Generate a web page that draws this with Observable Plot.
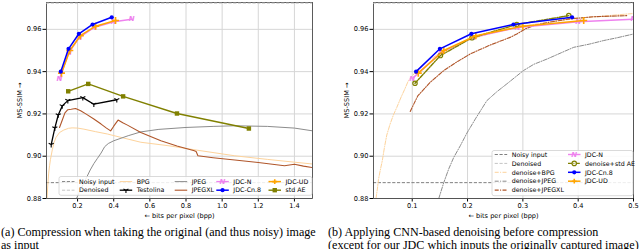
<!DOCTYPE html>
<html><head><meta charset="utf-8">
<script src="https://cdn.jsdelivr.net/npm/d3@7"></script>
<script src="https://cdn.jsdelivr.net/npm/@observablehq/plot@0.6"></script>
<style>
body{margin:0;width:640px;height:249px;overflow:hidden;background:#fff;position:relative;font-family:"DejaVu Sans"}
.panel{position:absolute;top:0}
#overlay{position:absolute;left:0;top:0;pointer-events:none}
.cap{position:absolute;top:226px;font-family:"Liberation Serif",serif;font-size:12.1px;line-height:13.3px;white-space:nowrap;color:#000}
</style></head>
<body>
<div id="a" class="panel" style="left:0"></div>
<div id="b" class="panel" style="left:320px"></div>
<svg id="overlay" width="640" height="222"></svg>
<div class="cap" style="left:1px">(a) Compression when taking the original (and thus noisy) image<br>as input</div>
<div class="cap" style="left:328px">(b) Applying CNN-based denoising before compression<br>(except for our JDC which inputs the originally captured image)</div>
<script>
// ---------- data ----------
const yTicks = [0.88, 0.90, 0.92, 0.94, 0.96];
const xTicksA = [0.2, 0.4, 0.6, 0.8, 1.0, 1.2, 1.4];
const xTicksB = [0.1, 0.2, 0.3, 0.4, 0.5];
const noisyInput = 0.8875;
const denoised = 0.9724;

const bpgX = [0.031,0.035,0.04,0.045,0.05,0.06,0.07,0.08,0.1,0.124,0.15,0.17,0.2,0.235,0.3,0.365,0.45,0.55,0.7,0.85,1.07,1.25,1.5];
const bpgY = [0.880,0.886,0.892,0.8955,0.8985,0.903,0.9065,0.9088,0.9112,0.9124,0.9132,0.9134,0.9133,0.9128,0.9116,0.9105,0.9087,0.9066,0.905,0.903,0.9002,0.8985,0.8963];
const testolinaX = [0.054,0.074,0.093,0.115,0.146,0.229,0.29,0.417];
const testolinaY = [0.9055,0.9133,0.9195,0.9238,0.9263,0.9277,0.9246,0.9267];
const jpegX = [0.194,0.21,0.23,0.25,0.27,0.29,0.31,0.33,0.35,0.37,0.40,0.44,0.48,0.55,0.65,0.8,0.95,1.07,1.25,1.4,1.5];
const jpegY = [0.880,0.883,0.8865,0.890,0.8935,0.8965,0.899,0.9015,0.9045,0.906,0.9073,0.9085,0.9097,0.9115,0.9127,0.9136,0.9141,0.9144,0.9141,0.9133,0.912];
const jpegxlX = [0.100,0.115,0.13,0.146,0.165,0.189,0.217,0.25,0.29,0.33,0.36,0.383,0.40,0.424,0.45,0.476,0.55,0.661,0.75,0.846,0.856,0.866,0.95,1.07,1.2,1.345,1.4,1.45,1.5];
const jpegxlY = [0.9136,0.917,0.9205,0.922,0.9222,0.9226,0.9215,0.9198,0.9176,0.9152,0.9133,0.912,0.9142,0.9171,0.9158,0.9147,0.9112,0.9073,0.9048,0.9026,0.9022,0.9002,0.8993,0.8982,0.897,0.8955,0.8962,0.8953,0.8946];
const jdcNX = [0.100,0.152,0.21,0.29,0.40,0.5];
const jdcNY = [0.9367,0.9490,0.9562,0.9608,0.9636,0.9648];
const jdcCn8X = [0.107,0.150,0.207,0.283,0.389];
const jdcCn8Y = [0.940,0.9508,0.9579,0.9623,0.9657];
const jdcUDX = [0.111,0.157,0.215,0.30,0.41];
const jdcUDY = [0.9393,0.950,0.957,0.9615,0.9642];
const stdAEX = [0.148,0.259,0.452,0.75,1.148];
const stdAEY = [0.9307,0.9342,0.9283,0.9202,0.9131];

const dnBpgX = [0.0345,0.037,0.039,0.042,0.046,0.050,0.054,0.060,0.066,0.072,0.08,0.087,0.093,0.10,0.11,0.125,0.15,0.175,0.2,0.25,0.3,0.35,0.4,0.45,0.5];
const dnBpgY = [0.880,0.8845,0.889,0.8931,0.898,0.9045,0.910,0.9152,0.9195,0.923,0.928,0.932,0.9357,0.938,0.941,0.9445,0.9488,0.952,0.9548,0.9588,0.9615,0.9636,0.9652,0.9664,0.9675];
const dnJpegX = [0.148,0.157,0.166,0.175,0.187,0.199,0.215,0.235,0.253,0.271,0.301,0.32,0.344,0.37,0.392,0.42,0.446,0.47,0.5];
const dnJpegY = [0.880,0.8875,0.894,0.8994,0.905,0.911,0.918,0.9263,0.9305,0.9342,0.9405,0.9435,0.946,0.949,0.9515,0.953,0.9547,0.956,0.9578];
const dnJpegxlX = [0.0964,0.11,0.1326,0.157,0.18,0.205,0.24,0.277,0.289,0.305,0.32,0.35,0.386,0.43,0.489];
const dnJpegxlY = [0.9212,0.9285,0.935,0.9405,0.9445,0.9484,0.9525,0.9562,0.9578,0.9603,0.9618,0.9635,0.965,0.966,0.9665];
const dnStdAEX = [0.105,0.151,0.208,0.289,0.383];
const dnStdAEY = [0.9345,0.9476,0.956,0.9623,0.9665];

const legendA = ["Noisy input","Denoised","BPG","Testolina","JPEG","JPEGXL","JDC-N","JDC-Cn.8","JDC-UD","std AE"];
const legendB = ["Noisy input","Denoised","denoise+BPG","denoise+JPEG","denoise+JPEGXL","JDC-N","denoise+std AE","JDC-Cn.8","JDC-UD"];

// ---------- helpers ----------
const rows = (xs, ys) => xs.map((x, i) => ({x, y: ys[i]}));
const C = {noisy:"#7f7f7f", den:"#c4c4c4", bpg:"#fdd39c", jpeg:"#8c8c8c", jxl:"#b0562a", test:"#000",
  n:"#ee82ee", cn8:"#0000ff", ud:"#ffa500", ae:"#808000"};
const DASH = "3.2,1.6", DASHDOT = "4,1.4,1,1.4";
const triDown = {draw(ctx, size){ const r = Math.sqrt(size/Math.PI);
  ctx.moveTo(0,0); ctx.lineTo(0,r); ctx.moveTo(0,0); ctx.lineTo(-r*0.9,-r*0.45); ctx.moveTo(0,0); ctx.lineTo(r*0.9,-r*0.45);}};

function base(o){
  return Plot.plot({
    width:320, height:222, marginTop:2, marginBottom:24, marginLeft:o.ml, marginRight:o.mr,
    style:{fontFamily:"DejaVu Sans", fontSize:"6.6px", color:"#000", background:"transparent", overflow:"visible"},
    x:{domain:o.xd, ticks:o.xt, tickFormat:o.xf, tickSize:3.5, tickPadding:1.5, label:"← bits per pixel (bpp)", labelAnchor:"center", labelArrow:"none", labelOffset:19},
    y:{domain:[0.88,0.9727], ticks:yTicks, tickFormat:d3.format(".2f"), tickSize:3.5, tickPadding:1.5, label:"MS-SSIM →", labelAnchor:"center", labelArrow:"none", labelOffset:29},
    marks:[
      Plot.gridX(o.xt, {stroke:"#d6d6d6", strokeOpacity:1, strokeWidth:1}),
      Plot.gridY(yTicks, {stroke:"#d6d6d6", strokeOpacity:1, strokeWidth:1}),
      ...o.marks,
      Plot.frame({stroke:"#333", strokeWidth:0.8}),
      Plot.ruleY([denoised], {stroke:C.den, strokeDasharray:DASH, strokeWidth:1})
    ]
  });
}
const line = (d, c, w, dash) => Plot.line(d, {x:"x", y:"y", stroke:c, strokeWidth:w, strokeDasharray:dash, clip:true});

const A = base({ml:46, mr:8, xd:[0.028,1.5], xt:xTicksA, xf:d3.format(".1f"), marks:[
  Plot.ruleY([noisyInput], {stroke:C.noisy, strokeDasharray:DASH, strokeWidth:1}),
  line(rows(bpgX,bpgY), C.bpg, 1),
  line(rows(testolinaX,testolinaY), C.test, 1.3),
  Plot.dot(rows(testolinaX,testolinaY), {x:"x", y:"y", symbol:triDown, r:2.8, stroke:C.test, strokeWidth:1.1, fill:"none"}),
  line(rows(jpegX,jpegY), C.jpeg, 1),
  line(rows(jpegxlX,jpegxlY), C.jxl, 1.1),
  line(rows(jdcNX,jdcNY), C.n, 1.4),
  Plot.text(rows(jdcNX,jdcNY), {x:"x", y:"y", text:()=>"N", fill:C.n, fontSize:7, fontWeight:"bold", fontStyle:"italic"}),
  line(rows(jdcUDX,jdcUDY), C.ud, 1.5),
  Plot.dot(rows(jdcUDX,jdcUDY), {x:"x", y:"y", symbol:"plus", r:2.4, stroke:C.ud, strokeWidth:1.6}),
  line(rows(jdcCn8X,jdcCn8Y), C.cn8, 1.5),
  Plot.dot(rows(jdcCn8X,jdcCn8Y), {x:"x", y:"y", r:2.1, fill:C.cn8}),
  line(rows(stdAEX,stdAEY), C.ae, 1.4),
  Plot.dot(rows(stdAEX,stdAEY), {x:"x", y:"y", symbol:"square", r:2.5, fill:C.ae})
]});
document.getElementById("a").appendChild(A);

const B = base({ml:53, mr:7, xd:[0.03,0.5], xt:xTicksB, xf:d3.format(".1f"), marks:[
  Plot.ruleY([noisyInput], {stroke:C.noisy, strokeDasharray:DASH, strokeWidth:1}),
  line(rows(dnBpgX,dnBpgY), C.bpg, 1, DASHDOT),
  line(rows(dnJpegX,dnJpegY), C.jpeg, 1, DASHDOT),
  line(rows(dnJpegxlX,dnJpegxlY), C.jxl, 1.1, DASHDOT),
  line(rows(jdcNX,jdcNY), C.n, 1.4),
  Plot.text(rows(jdcNX,jdcNY), {x:"x", y:"y", text:()=>"N", fill:C.n, fontSize:7, fontWeight:"bold", fontStyle:"italic", clip:true}),
  line(rows(dnStdAEX,dnStdAEY), C.ae, 1.4, DASHDOT),
  Plot.dot(rows(dnStdAEX,dnStdAEY), {x:"x", y:"y", r:2.2, stroke:C.ae, strokeWidth:1.2, fill:"none"}),
  line(rows(jdcUDX,jdcUDY), C.ud, 1.5),
  Plot.dot(rows(jdcUDX,jdcUDY), {x:"x", y:"y", symbol:"plus", r:2.4, stroke:C.ud, strokeWidth:1.6}),
  line(rows(jdcCn8X,jdcCn8Y), C.cn8, 1.5),
  Plot.dot(rows(jdcCn8X,jdcCn8Y), {x:"x", y:"y", r:2.1, fill:C.cn8})
]});
document.getElementById("b").appendChild(B);

// ---------- legends ----------
const styleOf = {
  "Noisy input":{c:C.noisy, w:1, dash:DASH}, "Denoised":{c:C.den, w:1, dash:DASH},
  "BPG":{c:C.bpg, w:1}, "Testolina":{c:C.test, w:1.3, m:"tri"}, "JPEG":{c:C.jpeg, w:1}, "JPEGXL":{c:C.jxl, w:1.1},
  "JDC-N":{c:C.n, w:1.4, m:"N"}, "JDC-Cn.8":{c:C.cn8, w:1.5, m:"circle"}, "JDC-UD":{c:C.ud, w:1.5, m:"plus"},
  "std AE":{c:C.ae, w:1.4, m:"square"},
  "denoise+BPG":{c:C.bpg, w:1, dash:DASHDOT}, "denoise+JPEG":{c:C.jpeg, w:1, dash:DASHDOT},
  "denoise+JPEGXL":{c:C.jxl, w:1.1, dash:DASHDOT}, "denoise+std AE":{c:C.ae, w:1.4, dash:DASHDOT, m:"ocircle"}
};
const ov = d3.select("#overlay");
function legend(box, names, colX, rowY, perCol){
  const g = ov.append("g");
  g.append("rect").attr("x",box[0]).attr("y",box[1]).attr("width",box[2]-box[0]).attr("height",box[3]-box[1])
    .attr("rx",2).attr("fill","#fff").attr("fill-opacity",0.85).attr("stroke","#d0d0d0").attr("stroke-width",0.8);
  names.forEach((name, i) => {
    const col = Math.floor(i/perCol), row = i%perCol;
    const tx = colX[col], ty = rowY[row], s = styleOf[name];
    const x0 = tx-17, x1 = tx-4.5, xm = (x0+x1)/2;
    g.append("line").attr("x1",x0).attr("x2",x1).attr("y1",ty).attr("y2",ty).attr("stroke",s.c)
      .attr("stroke-width",s.w).attr("stroke-dasharray",s.dash||null);
    if (s.m === "N") g.append("text").attr("x",xm).attr("y",ty).attr("dy","0.35em").attr("text-anchor","middle")
      .attr("font-size",7).attr("font-weight","bold").attr("font-style","italic").attr("fill",s.c).text("N");
    else if (s.m === "circle") g.append("circle").attr("cx",xm).attr("cy",ty).attr("r",2.1).attr("fill",s.c);
    else if (s.m === "ocircle") g.append("circle").attr("cx",xm).attr("cy",ty).attr("r",2.2).attr("fill","none").attr("stroke",s.c).attr("stroke-width",1.2);
    else if (s.m === "square") g.append("rect").attr("x",xm-2.2).attr("y",ty-2.2).attr("width",4.4).attr("height",4.4).attr("fill",s.c);
    else if (s.m === "plus") g.append("path").attr("d",`M${xm-2.4},${ty}h4.8M${xm},${ty-2.4}v4.8`).attr("stroke",s.c).attr("stroke-width",1.6);
    else if (s.m === "tri") g.append("path").attr("d",`M${xm},${ty}v2.8M${xm},${ty}l-2.5,-1.3M${xm},${ty}l2.5,-1.3`).attr("stroke",s.c).attr("stroke-width",1.1).attr("fill","none");
    g.append("text").attr("x",tx).attr("y",ty).attr("dy","0.35em").attr("font-family","DejaVu Sans").attr("font-size",6.3).attr("fill","#000").text(name);
  });
}
legend([59,176.5,312,195.3], legendA, [79,136.7,191.7,233.3,285.5], [181.6,190.2], 2);
legend([492,150.5,633,195.7], legendB, [511.7,585], [154.5,163.4,172.3,181.2,190.1], 5);
</script>
</body></html>
